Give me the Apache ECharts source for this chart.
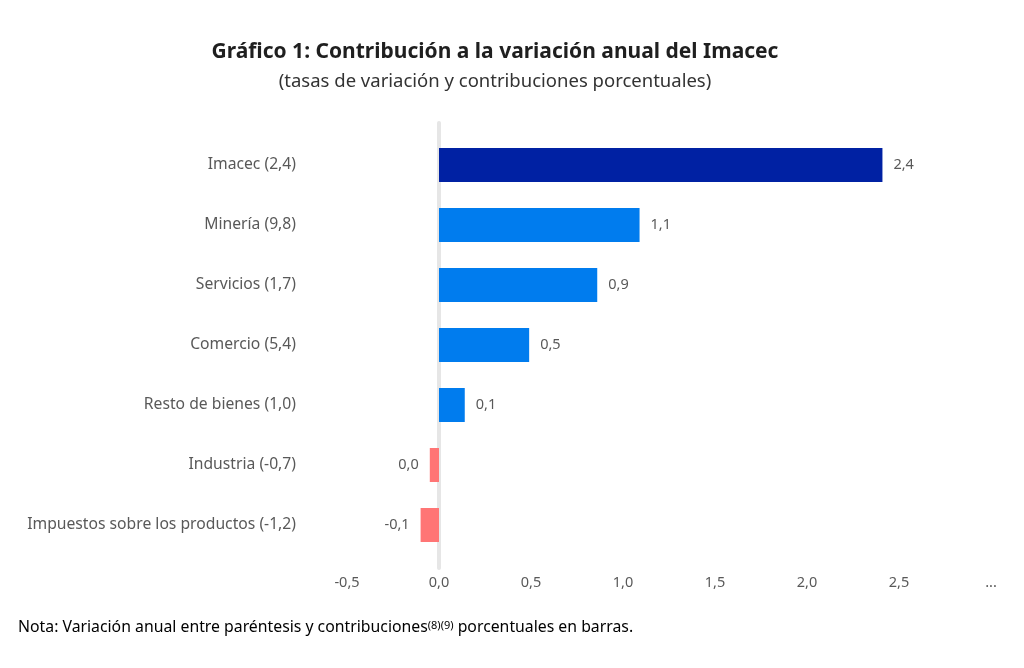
<!DOCTYPE html>
<html>
<head>
<meta charset="utf-8">
<script src="https://cdn.jsdelivr.net/npm/echarts@6/dist/echarts.min.js"></script>
<style>
html,body{margin:0;padding:0;background:#fff;}
#grafico{width:1024px;height:668px;}
</style>
</head>
<body>
<div id="grafico"></div>
<script>
// datos
var sectores = ['Imacec', 'Minería', 'Servicios', 'Comercio', 'Resto de bienes', 'Industria', 'Impuestos sobre los productos'];
var variacion = [2.4, 9.8, 1.7, 5.4, 1.0, -0.7, -1.2];      // entre paréntesis
var contribucion = [2.41, 1.09, 0.86, 0.49, 0.14, -0.05, -0.10]; // barras
var ejeTicks = [-0.5, 0, 0.5, 1, 1.5, 2, 2.5, 3];

var fuente = "'Noto Sans', 'Open Sans', sans-serif";

function coma(v) {
  var r = Math.round(v * 10) / 10;
  if (r === 0) r = 0; // quitar -0
  return r.toFixed(1).replace('.', ',');
}

var etiquetas = sectores.map(function (s, i) {
  return s + ' (' + coma(variacion[i]) + ')';
});

var myChart = echarts.init(document.getElementById('grafico'));
var option = {
  animation: false,
  textStyle: { fontFamily: fuente },
  graphic: [
    {
      type: 'text', z: 10,
      style: {
        text: 'Gráfico 1: Contribución a la variación anual del Imacec',
        x: 495, y: 52, textAlign: 'center', textVerticalAlign: 'middle',
        font: 'bold 21px ' + fuente, fill: '#1f1f1f'
      }
    },
    {
      type: 'text', z: 10,
      style: {
        text: '(tasas de variación y contribuciones porcentuales)',
        x: 495, y: 82, textAlign: 'center', textVerticalAlign: 'middle',
        font: '18.5px ' + fuente, fill: '#333333'
      }
    },
    {
      type: 'text', z: 10,
      style: {
        text: '{n|Nota: Variación anual entre paréntesis y contribuciones}{s|(8)(9)}{n| porcentuales en barras.}',
        x: 18, y: 627, textVerticalAlign: 'middle',
        rich: {
          n: { fontSize: 15.8, fontFamily: fuente, color: '#333333' },
          s: { fontSize: 11, fontFamily: fuente, color: '#333333', padding: [0, 0, 3, 0] }
        }
      }
    }
  ],
  grid: [
    { left: 347, right: 33, top: 135, bottom: 113 },
    // solo para la línea del cero, más alta que el área de barras
    { left: 347, right: 33, top: 123, bottom: 100 }
  ],
  xAxis: [
    {
      type: 'value',
      gridIndex: 0,
      min: ejeTicks[0],
      max: ejeTicks[ejeTicks.length - 1],
      interval: 0.5,
      splitLine: { show: false },
      axisLine: { show: false },
      axisTick: { show: false },
      axisLabel: {
        margin: 20,
        fontSize: 14.5,
        color: '#595959',
        formatter: function (v) {
          if (v === ejeTicks[ejeTicks.length - 1]) return '...';
          return coma(v);
        }
      }
    },
    {
      type: 'value',
      gridIndex: 1,
      min: ejeTicks[0],
      max: ejeTicks[ejeTicks.length - 1],
      show: false
    }
  ],
  yAxis: [
    {
      type: 'category',
      gridIndex: 0,
      inverse: true,
      data: etiquetas,
      axisLine: { show: false, onZero: false },
      axisTick: { show: false },
      axisLabel: { margin: 51, fontSize: 15.7, color: '#595959' }
    },
    {
      type: 'value',
      gridIndex: 1,
      min: 0,
      max: 1,
      z: 0,
      splitLine: { show: false },
      axisTick: { show: false },
      axisLabel: { show: false },
      axisLine: { show: true, onZero: true, lineStyle: { color: '#e6e6e6', width: 4 } }
    }
  ],
  series: [
    {
      type: 'bar',
      xAxisIndex: 0,
      yAxisIndex: 0,
      barWidth: 34,
      z: 3,
      data: contribucion.map(function (v) {
        return {
          value: v,
          label: { position: v < 0 ? 'left' : 'right' }
        };
      }),
      itemStyle: {
        color: function (p) {
          if (p.dataIndex === 0) return '#0021a3';
          return p.value < 0 ? '#ff7575' : '#007cee';
        }
      },
      label: {
        show: true,
        distance: 11,
        fontSize: 14.5,
        color: '#595959',
        formatter: function (p) { return coma(p.value); }
      }
    }
  ]
};
myChart.setOption(option);
window.onresize = function () { myChart.resize(); };
</script>
</body>
</html>
